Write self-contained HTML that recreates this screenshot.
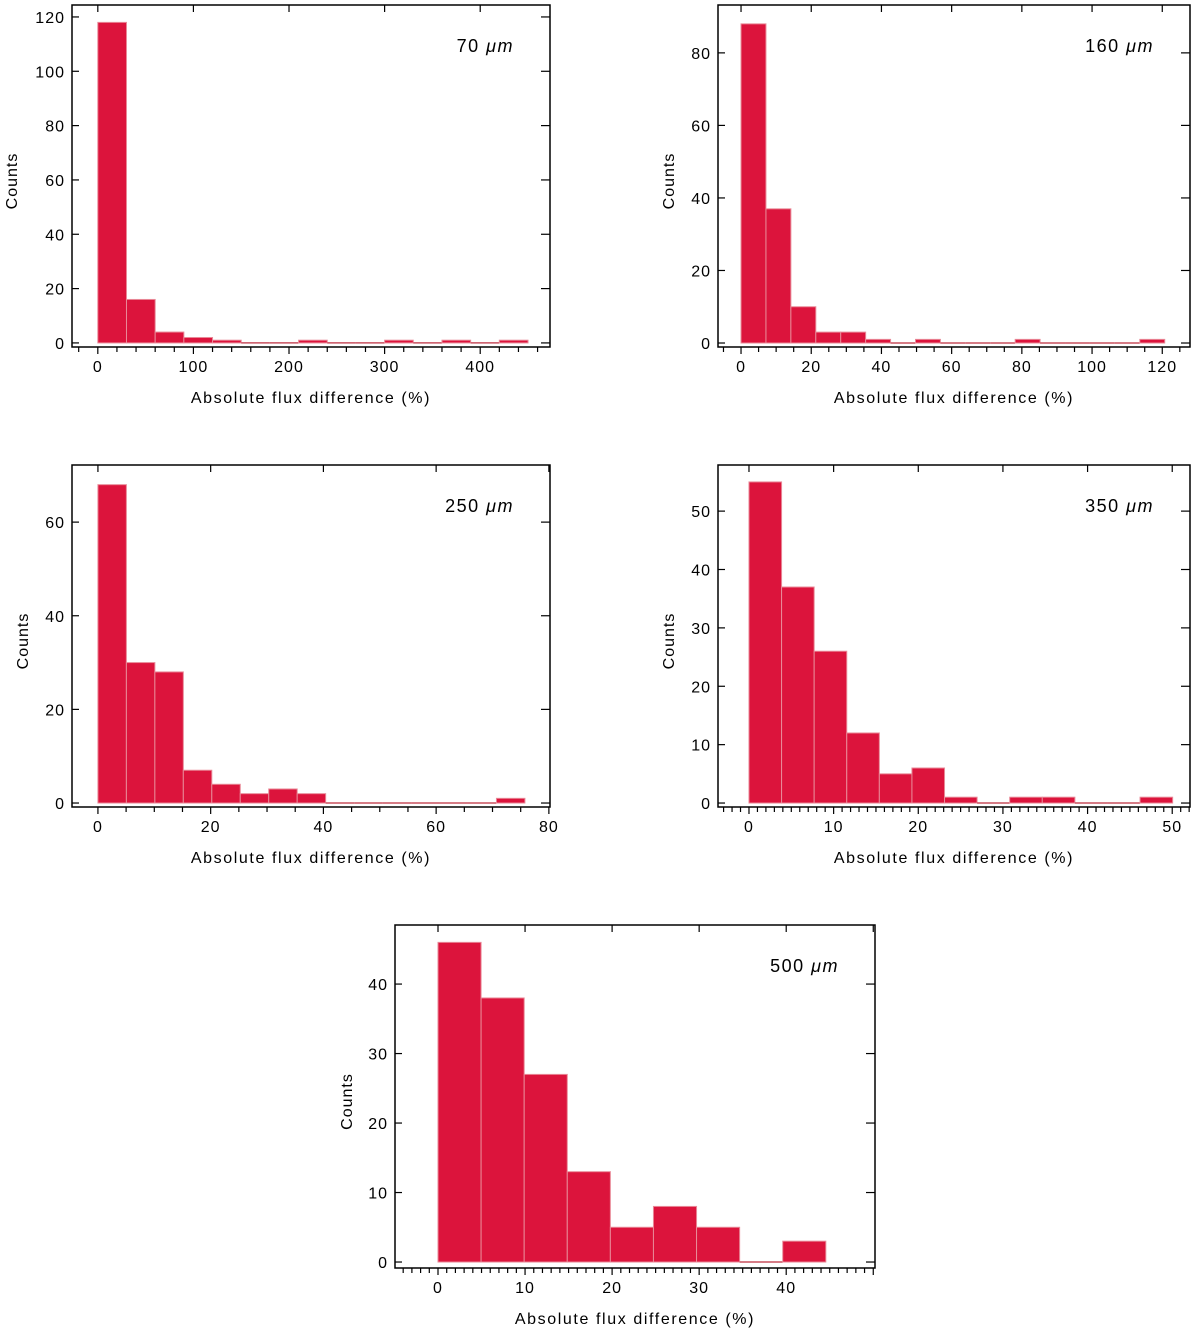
<!DOCTYPE html>
<html><head><meta charset="utf-8">
<style>
html,body{margin:0;padding:0;background:#fff;}
svg{display:block;font-family:"Liberation Sans","DejaVu Sans",sans-serif;}
</style></head>
<body>
<svg id="fig" width="1200" height="1328" viewBox="0 0 1200 1328" xmlns="http://www.w3.org/2000/svg"></svg>
<script>
// Panel data (counts per bin)
const counts70 = [118,16,4,2,1,0,0,1,0,0,1,0,1,0,1];
const counts160 = [88,37,10,3,3,1,0,1,0,0,0,1,0,0,0,0,1];
const counts250 = [68,30,28,7,4,2,3,2,0,0,0,0,0,0,1];
const counts350 = [55,37,26,12,5,6,1,0,1,1,0,0,1];
const counts500 = [46,38,27,13,5,8,5,0,3];
const binWidths = [30,7.1,5.05,3.85,4.95];
const bandNums = ["70","160","250","350","500"];
const xTicks70 = [0,100,200,300,400];
const xTicks160 = [0,20,40,60,80,100,120];
const xTicks250 = [0,20,40,60,80];
const xTicks350 = [0,10,20,30,40,50];
const xTicks500 = [0,10,20,30,40];
const yTicks70 = [0,20,40,60,80,100,120];
const yTicks160 = [0,20,40,60,80];
const yTicks250 = [0,20,40,60];
const yTicks350 = [0,10,20,30,40,50];
const yTicks500 = [0,10,20,30,40];

const NS="http://www.w3.org/2000/svg";
const svg=document.getElementById('fig');
function mk(tag,attrs,parent){const e=document.createElementNS(NS,tag);for(const k in attrs)e.setAttribute(k,attrs[k]);(parent||svg).appendChild(e);return e;}

const panels=[
 {id:'70',counts:counts70,w:binWidths[0],xt:xTicks70,yt:yTicks70,minor:20,L:72,R:550,T:5,B:347,x0:-27,x1:473,y0:-1.5,y1:124.4,cx:12,label:bandNums[0]},
 {id:'160',counts:counts160,w:binWidths[1],xt:xTicks160,yt:yTicks160,minor:5,L:718,R:1190,T:5,B:347,x0:-6.56,x1:127.9,y0:-1.1,y1:93.2,cx:669,label:bandNums[1]},
 {id:'250',counts:counts250,w:binWidths[2],xt:xTicks250,yt:yTicks250,minor:5,L:72,R:550,T:465,B:807,x0:-4.6,x1:80.2,y0:-0.85,y1:72.2,cx:23,label:bandNums[2]},
 {id:'350',counts:counts350,w:binWidths[3],xt:xTicks350,yt:yTicks350,minor:1,L:718,R:1190,T:465,B:807,x0:-3.66,x1:52.1,y0:-0.68,y1:57.9,cx:669,label:bandNums[3]},
 {id:'500',counts:counts500,w:binWidths[4],xt:xTicks500,yt:yTicks500,minor:1,L:395,R:875,T:925,B:1268,x0:-4.94,x1:50.2,y0:-0.86,y1:48.5,cx:347,label:bandNums[4]}
];

panels.forEach(p=>{
  const g=mk('g',{});
  
  
  const sx=v=>p.L+(v-p.x0)/(p.x1-p.x0)*(p.R-p.L);
  const sy=v=>p.B-(v-p.y0)/(p.y1-p.y0)*(p.B-p.T);
  p.counts.forEach((c,i)=>{
    const xa=sx(i*p.w), xb=sx((i+1)*p.w), ya=sy(c), yb=sy(0);
    if(c>0){
      const r=mk('rect',{x:xa,y:ya,width:xb-xa,height:yb-ya,fill:'#dc143c',stroke:'#e98a98','stroke-width':1},g);
      
      
    } else {
      const l=mk('line',{x1:xa,x2:xb,y1:yb,y2:yb,stroke:'#c8505f','stroke-width':1.5},g);
      
      
    }
  });
  const f=mk('rect',{x:p.L,y:p.T,width:p.R-p.L,height:p.B-p.T,fill:'none',stroke:'#000','stroke-width':1.5},g);
  
  
  const step=p.xt[1]-p.xt[0];
  const start=Math.ceil(p.x0/p.minor)*p.minor;
  for(let v=start; v<=p.x1; v+=p.minor){
    const x=sx(v);
    const isMajor=Math.abs(v/step-Math.round(v/step))<1e-6;
    mk('line',{x1:x,x2:x,y1:p.B,y2:p.B+(isMajor?7:5),stroke:'#000','stroke-width':1.2},g);
    if(isMajor) mk('line',{x1:x,x2:x,y1:p.T,y2:p.T+7,stroke:'#000','stroke-width':1.2},g);
  }
  p.xt.forEach(v=>{
    const t=mk('text',{x:sx(v),y:p.B+25,'text-anchor':'middle','font-size':16,'letter-spacing':1,fill:'#000'},g);
    t.textContent=v;
    
    
  });
  p.yt.forEach(v=>{
    const y=sy(v);
    mk('line',{x1:p.L,x2:p.L+7,y1:y,y2:y,stroke:'#000','stroke-width':1.2},g);
    mk('line',{x1:p.R-9,x2:p.R,y1:y,y2:y,stroke:'#000','stroke-width':1.2},g);
    const t=mk('text',{x:p.L-7,y:y+6,'text-anchor':'end','font-size':16,'letter-spacing':1,fill:'#000'},g);
    t.textContent=v;
    
    
  });
  const xt=mk('text',{x:(p.L+p.R)/2,y:p.B+56,'text-anchor':'middle','font-size':16,'letter-spacing':1.6,fill:'#000'},g);
  xt.textContent='Absolute flux difference (%)';
  
  
  const cy=(p.T+p.B)/2;
  const yt=mk('text',{x:p.cx,y:cy,'text-anchor':'middle','font-size':16,'letter-spacing':1,fill:'#000',transform:'rotate(-90 '+(p.cx+5)+' '+cy+')'},g);
  yt.textContent='Counts';
  
  
  const lb=mk('text',{x:p.R-36,y:p.T+47,'text-anchor':'end','font-size':18,'letter-spacing':1.5,fill:'#000'},g);
  
  
  lb.setAttribute('xml:space','preserve');
  lb.textContent=p.label+'  ';
  const mu=mk('tspan',{'font-style':'italic'},lb);
  mu.textContent='μm';
});
</script>
</body></html>
